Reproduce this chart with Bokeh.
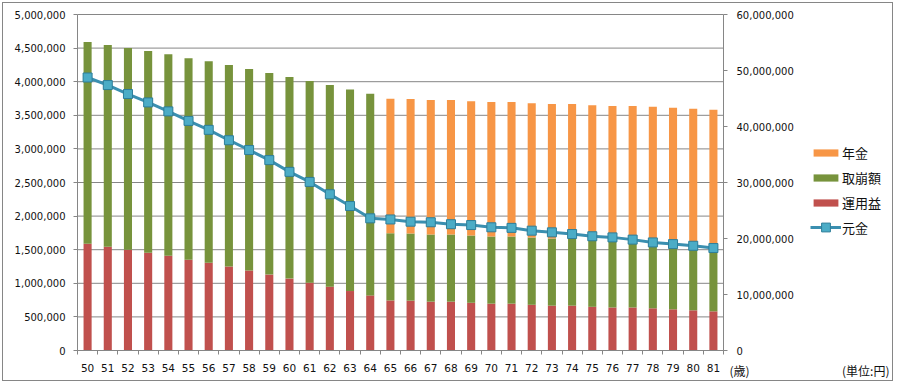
from bokeh.plotting import figure
from bokeh.models import (ColumnDataSource, Range1d, LinearAxis, FixedTicker,
                          NumeralTickFormatter, Legend, LegendItem, Label)
from bokeh.embed import file_html
from bokeh.resources import INLINE

# ---- data ----
ages = [50, 51, 52, 53, 54, 55, 56, 57, 58, 59, 60, 61, 62, 63, 64, 65,
        66, 67, 68, 69, 70, 71, 72, 73, 74, 75, 76, 77, 78, 79, 80, 81]
unyoueki = [1590000, 1545000, 1500000, 1455000, 1410000, 1350000, 1305000, 1250000,
            1190000, 1130000, 1070000, 1010000, 950000, 885000, 820000, 745000,
            742000, 727000, 727000, 710000, 697000, 697000, 680000, 667000,
            667000, 650000, 640000, 640000, 628000, 613000, 598000, 583000]
torikuzushi = [3000000, 3000000, 3000000, 3000000, 3000000, 3000000, 3000000, 3000000,
               3000000, 3000000, 3000000, 3000000, 3000000, 3000000, 3000000, 1000000,
               1000000, 1000000, 1000000, 1000000, 1000000, 1000000, 1000000, 1000000,
               1000000, 1000000, 1000000, 1000000, 1000000, 1000000, 1000000, 1000000]
nenkin = [0, 0, 0, 0, 0, 0, 0, 0, 0, 0, 0, 0, 0, 0, 0, 2000000,
          2000000, 2000000, 2000000, 2000000, 2000000, 2000000, 2000000, 2000000,
          2000000, 2000000, 2000000, 2000000, 2000000, 2000000, 2000000, 2000000]
ganpon = [48750000, 47400000, 45800000, 44300000, 42700000, 41000000, 39400000, 37550000,
          35800000, 34000000, 31900000, 30100000, 27900000, 25800000, 23600000, 23400000,
          23000000, 22900000, 22550000, 22400000, 22000000, 21900000, 21400000, 21100000,
          20800000, 20400000, 20200000, 19800000, 19300000, 19000000, 18700000, 18300000]
left_ticks = [0, 500000, 1000000, 1500000, 2000000, 2500000, 3000000, 3500000,
              4000000, 4500000, 5000000]
right_ticks = [0, 10000000, 20000000, 30000000, 40000000, 50000000, 60000000]
series_names = ["運用益", "取崩額", "年金"]
line_name = "元金"
unit_age = "(歳)"
unit_yen = "(単位:円)"

# ---- style / layout ----
C_RED = "#C0504D"
C_GREEN = "#77933C"
C_ORANGE = "#F79646"
C_LINE = "#3A8FB0"
C_MFILL = "#4BACC6"
C_MEDGE = "#2E7E9A"
GRID = "#868686"
TXT = "#111111"
NUM_FONT = "DejaVu Sans"
JP_FONT = "Noto Sans CJK JP"

W, H = 891, 379            # inner canvas size (plus 1px border each side)
PLOT_L, PLOT_R = 74, 720   # plot-area pixel edges inside the canvas
PLOT_T, PLOT_B = 11, 347
x_lo, x_hi = ages[0] - 0.5, ages[-1] + 0.5
y_lo, y_hi = left_ticks[0], left_ticks[-1]
r_lo, r_hi = right_ticks[0], right_ticks[-1]
ppx = (PLOT_R - PLOT_L) / (x_hi - x_lo)
ppy = (PLOT_B - PLOT_T) / (y_hi - y_lo)
ppr = (PLOT_B - PLOT_T) / (r_hi - r_lo)

x_range = Range1d(x_lo - PLOT_L / ppx, x_hi + (W - PLOT_R) / ppx)
y_range = Range1d(y_lo - (H - PLOT_B) / ppy, y_hi + PLOT_T / ppy)
r_range = Range1d(r_lo - (H - PLOT_B) / ppr, r_hi + PLOT_T / ppr)

source = ColumnDataSource(dict(age=ages, unyoueki=unyoueki, torikuzushi=torikuzushi,
                               nenkin=nenkin, ganpon=ganpon))

p = figure(width=W, height=H, output_backend="svg", toolbar_location=None,
           x_range=x_range, y_range=y_range,
           min_border_left=0, min_border_right=0, min_border_top=0,
           min_border_bottom=0, x_axis_type=None, y_axis_type=None,
           styles={"border": "1px solid #868686", "margin": "2px 0 0 2px"})
p.outline_line_color = None
p.background_fill_color = "white"
p.border_fill_color = "white"
p.extra_y_ranges = {"right": r_range}
p.xgrid.visible = False
p.ygrid.visible = False

# horizontal gridlines over the plot area only
p.segment(x0=[x_lo] * len(left_ticks), x1=[x_hi] * len(left_ticks),
          y0=left_ticks, y1=left_ticks, line_color=GRID, line_width=1)

# bars
bars = p.vbar_stack(["unyoueki", "torikuzushi", "nenkin"], x="age", width=0.4,
                    color=[C_RED, C_GREEN, C_ORANGE], line_color=None, source=source)

# axes (fixed inside the frame)
xaxis = LinearAxis(fixed_location=y_lo, bounds=(x_lo, x_hi),
                   ticker=FixedTicker(ticks=ages,
                                      minor_ticks=[a - 0.5 for a in ages] + [x_hi]))
xaxis.major_tick_out = 0
xaxis.major_tick_in = 0
xaxis.minor_tick_out = 4
xaxis.minor_tick_in = 0
xaxis.minor_tick_line_color = GRID
xaxis.major_label_standoff = 9
xaxis.major_label_text_font_size = "10.5px"
p.add_layout(xaxis, "below")

yaxis = LinearAxis(fixed_location=x_lo, bounds=(y_lo, y_hi),
                   ticker=FixedTicker(ticks=left_ticks),
                   formatter=NumeralTickFormatter(format="0,0"))
yaxis.major_label_standoff = 8
yaxis.major_label_text_font_size = "10px"
p.add_layout(yaxis, "left")

raxis = LinearAxis(y_range_name="right", fixed_location=x_hi, bounds=(r_lo, r_hi),
                   ticker=FixedTicker(ticks=right_ticks),
                   formatter=NumeralTickFormatter(format="0,0"))
raxis.major_label_standoff = 9
raxis.major_label_text_font_size = "10px"
p.add_layout(raxis, "right")

for ax in (yaxis, raxis):
    ax.major_tick_out = 4
    ax.major_tick_in = 0
    ax.minor_tick_out = 0
    ax.minor_tick_in = 0
for ax in (xaxis, yaxis, raxis):
    ax.axis_line_color = GRID
    ax.major_tick_line_color = GRID
    ax.major_label_text_font = NUM_FONT
    ax.major_label_text_color = TXT

# principal line
ln = p.line("age", "ganpon", source=source, y_range_name="right",
            line_color=C_LINE, line_width=3)
sc = p.scatter("age", "ganpon", source=source, y_range_name="right", marker="square",
               size=9, fill_color=C_MFILL, line_color=C_MEDGE, line_width=1)

# legends
leg_common = dict(orientation="vertical", glyph_width=31, label_standoff=1,
                  padding=0, margin=0, border_line_color=None,
                  background_fill_alpha=0, label_text_font=JP_FONT,
                  label_text_font_size="13px", label_text_color=TXT)
leg1 = Legend(items=[LegendItem(label=series_names[2], renderers=[bars[2]]),
                     LegendItem(label=series_names[1], renderers=[bars[1]]),
                     LegendItem(label=series_names[0], renderers=[bars[0]])],
              location=(807, 170), glyph_height=9, label_height=9, spacing=6,
              **leg_common)
leg2 = Legend(items=[LegendItem(label=line_name, renderers=[ln, sc])],
              location=(807, 144), glyph_height=22, label_height=22, spacing=0,
              **leg_common)
p.add_layout(leg1, "center")
p.add_layout(leg2, "center")

lab1 = Label(x=726, y=12, x_units="screen", y_units="screen", text=unit_age,
             text_font=JP_FONT, text_font_size="12px", text_color=TXT,
             text_baseline="middle", text_align="left")
lab2 = Label(x=886, y=12, x_units="screen", y_units="screen", text=unit_yen,
             text_font=JP_FONT, text_font_size="12px", text_color=TXT,
             text_baseline="middle", text_align="right")
p.add_layout(lab1)
p.add_layout(lab2)

open("out.html", "w").write(file_html(p, INLINE))
